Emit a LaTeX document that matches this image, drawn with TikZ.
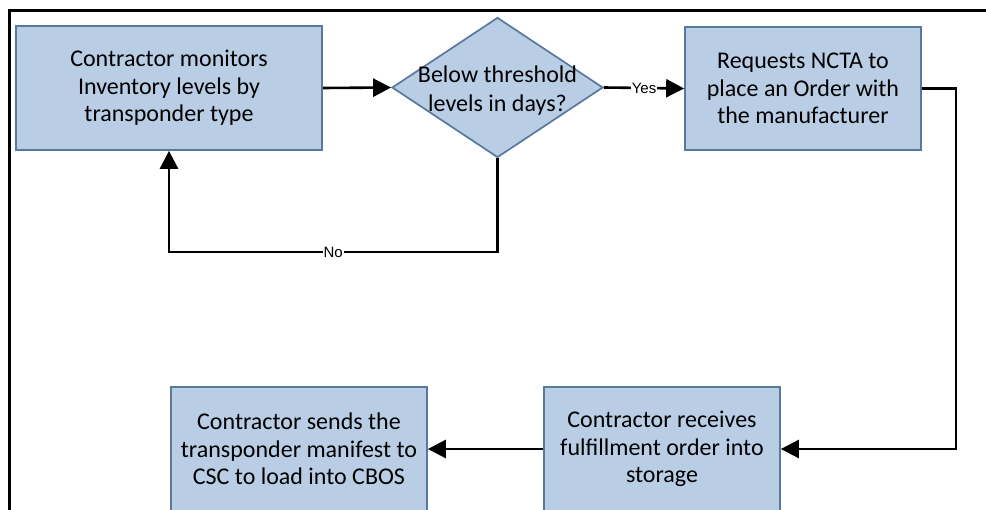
\documentclass[tikz,border=0pt]{standalone}
\usepackage{fontspec}
\setmainfont{Carlito}
\newfontfamily\labelfont{Liberation Sans}
\usetikzlibrary{shapes.geometric,arrows.meta}
\definecolor{boxfill}{RGB}{185,205,228}
\definecolor{boxline}{RGB}{88,120,158}
\tikzset{
  stepbox/.style={draw=boxline, fill=boxfill, line width=1.7pt, inner sep=0pt,
    align=center, font=\fontsize{24}{27.5}\selectfont},
  decision/.style={diamond, draw=boxline, fill=boxfill, line width=1.7pt, inner sep=0pt},
  dectext/.style={align=center, font=\fontsize{24}{29}\selectfont, inner sep=0pt},
  flow/.style={line width=2.6pt, -{Triangle[length=18pt,width=18pt]}},
  flowlabel/.style={fill=white, inner sep=1pt, font=\labelfont\fontsize{15}{17}\selectfont},
}
\begin{document}
\begin{tikzpicture}[x=1pt,y=-1pt]
\useasboundingbox (0,0) rectangle (986,510);
\clip (0,0) rectangle (986,510);
% frame (cropped)
\draw[line width=3pt] (9,520) -- (9,11) -- (995,11);
% nodes
\node[stepbox, minimum width=306pt, minimum height=124pt] (b1) at (169,88)
  {Contractor monitors\\Inventory levels by\\transponder type};
\node[decision, minimum width=211pt, minimum height=140pt] (d) at (497.5,87.5) {};
\node[dectext] (dt) at ([yshift=-3pt]d.center) {Below threshold\\levels in days?};
\node[stepbox, minimum width=236pt, minimum height=123pt] (b3) at (803,88.5)
  {Requests NCTA to\\place an Order with\\the manufacturer};
\node[stepbox, minimum width=236pt, minimum height=124pt] (b4) at (662,449)
  {Contractor receives\\fulfillment order into\\storage};
\node[stepbox, minimum width=256pt, minimum height=124pt] (b5) at (299,449)
  {Contractor sends the\\transponder manifest to\\CSC to load into CBOS};
\coordinate (c1) at (956,449);
\coordinate (n1) at (497.5,252);
\coordinate (n2) at (169,252);
% connectors
\draw[flow] (b1.east) -- (d.west);
\draw[flow] (d.east) -- node[flowlabel] {Yes} (b3.west);
\draw[flow] (b3.east) -| (c1) -- (b4.east);
\draw[flow] (b4.west) -- (b5.east);
\draw[flow] (d.south) -- (n1) -- node[flowlabel, pos=0.5] {No} (n2) -- (b1.south);
\end{tikzpicture}
\end{document}
